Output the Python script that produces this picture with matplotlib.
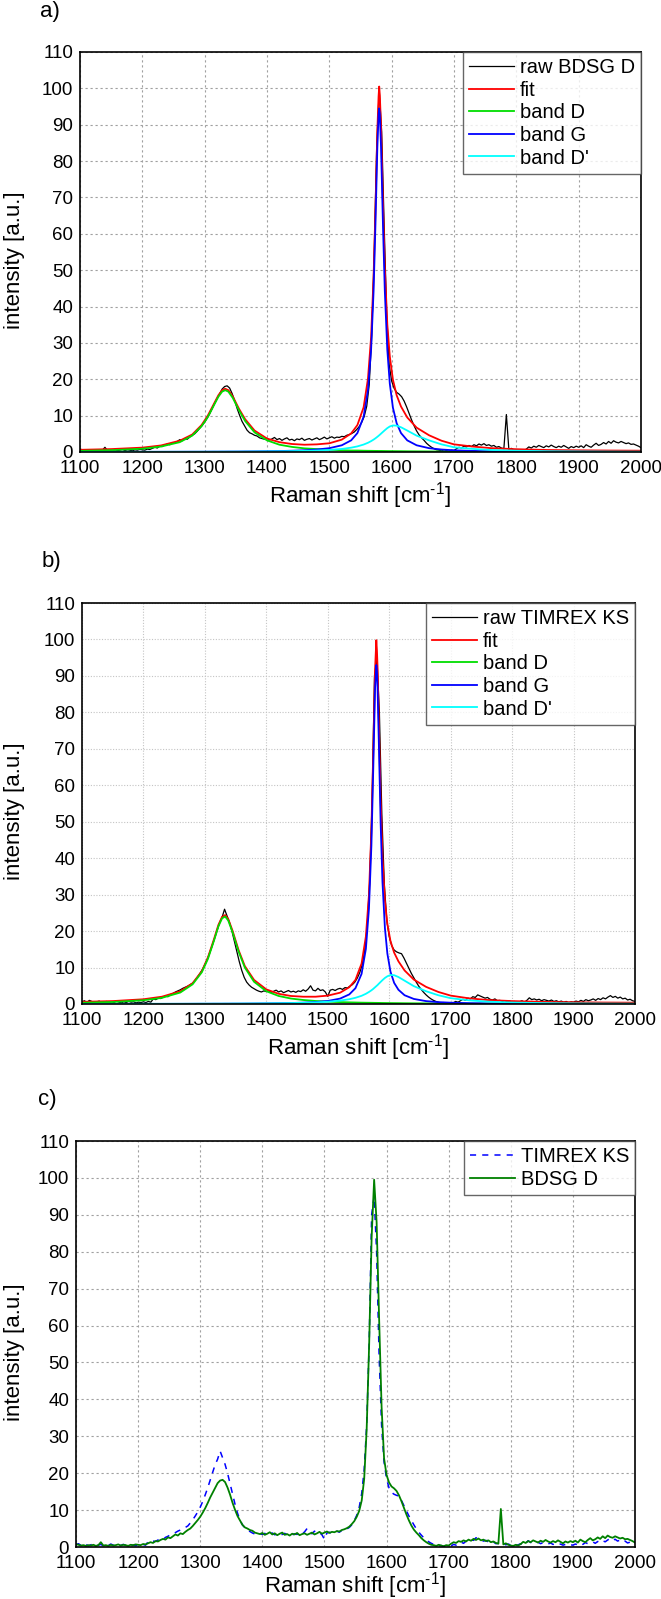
import numpy as np
import matplotlib
matplotlib.use("Agg")
import matplotlib.pyplot as plt

plt.rcParams['font.family'] = ['Liberation Sans', 'DejaVu Sans']
plt.rcParams['mathtext.fontset'] = 'custom'
plt.rcParams['mathtext.rm'] = 'Liberation Sans'
plt.rcParams['mathtext.default'] = 'regular'

# --- raw spectra, sampled every 4 cm-1 from 1100 to 2000 ---
raw_x = np.arange(1100, 2001, 4)

bdsg_raw = [
    0.8, 0.6, 0.4, 0.5, 0.3, 0.5, 0.4, 0.6, 0.3, 0.5, 1.3, 0.4, 0.5, 0.3, 0.6, 0.4, 0.5, 0.7, 0.4, 0.6, 0.5, 0.3, 0.6, 0.5, 0.7,
    0.6, 0.5, 0.8, 0.7, 1.0, 1.3, 1.1, 1.6, 1.5, 1.9, 2.2, 2.0, 2.6, 2.4, 2.9, 3.4, 3.1, 3.7, 3.5, 4.1, 4.6, 5.0, 5.7, 6.5, 7.3,
    8.2, 9.3, 10.5, 11.9, 13.4, 14.7, 16.0, 17.3, 18.0, 18.2, 17.6, 16.1, 14.2, 12.0, 10.1, 8.4, 7.2, 6.0, 5.3, 5.0, 4.6, 4.4, 3.9, 3.7, 3.5,
    3.8, 3.3, 3.6, 4.0, 3.4, 3.7, 3.2, 3.6, 3.9, 3.3, 3.5, 3.1, 3.6, 3.4, 3.8, 3.2, 3.5, 3.7, 3.3, 3.6, 3.9, 3.4, 3.7, 4.1, 3.6,
    3.9, 4.2, 3.8, 4.1, 4.0, 4.3, 4.2, 4.6, 4.8, 5.1, 5.5, 6.2, 7.0, 8.2, 9.8, 12.6, 18.5, 32.0, 55.0, 84.0, 99.5, 88.0, 62.0, 38.0, 24.0,
    19.5, 17.5, 16.4, 15.9, 15.2, 14.0, 12.4, 10.6, 8.8, 7.2, 5.8, 4.7, 3.9, 3.2, 2.4, 1.8, 1.3, 0.9, 0.6, 0.5, 0.3, 0.6, 0.4, 0.2, 0.5,
    0.4, 0.9, 1.3, 1.1, 1.6, 1.4, 1.8, 1.5, 2.0, 1.7, 2.2, 1.9, 2.3, 1.8, 2.0, 1.6, 1.8, 1.3, 1.5, 1.1, 0.9, 10.3, 0.7, 1.0, 0.6,
    0.4, 0.3, 0.6, 0.4, 0.8, 1.4, 1.1, 1.6, 1.3, 1.8, 1.5, 1.2, 1.7, 1.4, 1.9, 1.5, 1.2, 1.6, 1.3, 1.8, 1.4, 1.0, 1.5, 1.2, 1.6,
    1.3, 1.7, 1.2, 2.0, 1.6, 1.3, 1.9, 2.4, 1.8, 2.1, 2.6, 2.2, 2.9, 2.4, 3.1, 2.7, 2.5, 2.9, 2.6, 2.3, 2.5, 2.1, 2.2, 1.9, 1.6,
    1.2]

timrex_raw = [
    0.6, 0.9, 0.4, 1.0, 0.7, 0.3, 0.6, 0.8, 0.4, 0.5, 0.7, 0.3, 0.6, 0.4, 0.8, 0.5, 0.3, 0.6, 0.4, 0.7, 0.5, 0.6, 0.3, 0.5, 0.4,
    0.6, 0.4, 0.7, 0.5, 1.4, 1.2, 1.6, 1.5, 1.9, 2.2, 2.0, 2.6, 2.9, 3.3, 3.6, 3.9, 4.3, 4.6, 4.9, 5.3, 5.7, 6.5, 7.4, 8.4, 9.5,
    10.8, 12.3, 14.1, 16.0, 18.1, 20.2, 22.3, 23.8, 26.0, 24.2, 22.4, 20.0, 17.2, 14.3, 11.6, 9.2, 7.3, 6.0, 5.2, 4.6, 4.2, 3.8, 3.5, 3.3, 3.6,
    3.4, 3.7, 3.2, 3.5, 3.8, 3.3, 3.6, 3.1, 3.4, 3.7, 3.3, 3.5, 3.2, 3.6, 3.4, 3.9, 3.5, 4.1, 5.0, 3.8, 3.6, 4.3, 3.7, 3.9, 3.3,
    2.1, 3.8, 4.0, 3.7, 4.1, 4.3, 4.0, 4.5, 4.4, 4.9, 5.3, 6.0, 7.1, 8.6, 10.8, 14.5, 21.0, 33.0, 55.0, 90.0, 95.0, 80.0, 52.0, 33.0, 23.0,
    18.5, 16.0, 14.8, 14.3, 14.0, 13.8, 12.6, 11.2, 9.8, 8.4, 7.2, 6.0, 4.9, 4.0, 3.2, 2.5, 1.9, 1.4, 1.0, 0.7, 0.5, 0.3, 0.4, 0.2, 0.3,
    0.4, 0.3, 0.7, 0.5, 0.9, 1.3, 1.0, 1.6, 1.4, 2.0, 1.8, 2.5, 2.2, 1.9, 1.6, 1.8, 1.3, 1.1, 1.4, 0.9, 1.0, 0.7, 0.9, 0.6, 0.8,
    0.5, 0.7, 0.4, 0.6, 0.9, 0.5, 1.0, 1.7, 1.2, 1.4, 1.1, 1.3, 0.9, 1.2, 1.0, 0.8, 1.1, 0.7, 0.9, 0.6, 0.8, 0.5, 0.7, 0.4, 0.6,
    0.5, 0.8, 0.6, 1.0, 0.7, 1.2, 0.9, 1.1, 1.4, 1.0, 1.5, 1.2, 1.7, 1.4, 1.9, 2.3, 1.8, 2.1, 1.6, 1.9, 1.4, 1.6, 1.1, 1.3, 0.9,
    0.7]

# --- fitted curves ---
fit_x = [1100, 1150, 1200, 1230, 1260, 1280, 1295, 1305, 1315, 1322,
         1328, 1333, 1338, 1345, 1355, 1365, 1380, 1400, 1420, 1440,
         1460, 1480, 1500, 1520, 1535, 1545, 1555, 1562, 1567, 1571,
         1574, 1577, 1579, 1580, 1581, 1583, 1586, 1589, 1593, 1597,
         1602, 1608, 1615, 1625, 1640, 1660, 1680, 1700, 1730, 1760,
         1800, 1850, 1900, 1950, 2000]

# panel a: BDSG D
fit_a = [0.6, 0.8, 1.2, 1.8, 3.1, 4.8, 7.4, 10.0, 13.3, 15.6,
         17.0, 17.4, 17.0, 15.3, 11.9, 9.0, 5.9, 3.7, 2.7, 2.2,
         2.0, 2.1, 2.4, 3.4, 5.1, 7.4, 12.3, 20.2, 31.6, 48.2,
         67.0, 88.3, 97.8, 100.5, 98.1, 89.2, 68.7, 50.8, 35.1, 26.3,
         19.9, 15.6, 12.5, 9.5, 6.7, 4.6, 3.1, 2.1, 1.5, 1.05,
         0.77, 0.55, 0.46, 0.4, 0.36]
band_d_a = [0.3, 0.5, 0.9, 1.5, 2.7, 4.5, 7.1, 9.6, 12.9, 15.2,
            16.6, 17.0, 16.6, 14.9, 11.5, 8.5, 5.4, 3.2, 2.0, 1.4,
            1.0, 0.8, 0.6, 0.5, 0.4, 0.4, 0.35, 0.33, 0.32, 0.31,
            0.3, 0.3, 0.29, 0.29, 0.29, 0.29, 0.28, 0.27, 0.26, 0.25,
            0.24, 0.23, 0.22, 0.2, 0.18, 0.16, 0.14, 0.13, 0.11, 0.09,
            0.08, 0.07, 0.05, 0.05, 0.04]
band_g_a = [0.03, 0.04, 0.05, 0.06, 0.07, 0.08, 0.08, 0.09, 0.1, 0.1,
            0.11, 0.11, 0.12, 0.12, 0.13, 0.15, 0.17, 0.21, 0.26, 0.35,
            0.47, 0.68, 1.05, 1.85, 3.2, 5.2, 9.7, 17.1, 28.1, 44.3,
            62.7, 83.6, 92.9, 94.5, 92.9, 83.6, 62.7, 44.3, 28.1, 18.8,
            12.2, 7.9, 5.2, 3.2, 1.85, 1.05, 0.68, 0.47, 0.3, 0.21,
            0.14, 0.09, 0.07, 0.05, 0.04]
band_dp_a = [0.03, 0.03, 0.04, 0.05, 0.06, 0.06, 0.07, 0.07, 0.08, 0.08,
             0.09, 0.09, 0.09, 0.1, 0.1, 0.11, 0.13, 0.16, 0.19, 0.24,
             0.31, 0.41, 0.57, 0.84, 1.19, 1.54, 2.05, 2.54, 2.99, 3.41,
             3.77, 4.17, 4.45, 4.6, 4.75, 5.06, 5.53, 5.99, 6.57, 7.02,
             7.3, 7.25, 6.8, 5.9, 4.5, 3.2, 2.1, 1.3, 0.85, 0.55,
             0.35, 0.2, 0.14, 0.1, 0.08]

# panel b: TIMREX KS
fit_b = [0.6, 0.8, 1.3, 2.0, 3.5, 5.7, 9.0, 12.8, 17.9, 21.7,
         23.9, 24.4, 23.3, 20.1, 14.7, 10.4, 6.6, 4.0, 2.8, 2.2,
         2.0, 2.0, 2.3, 3.1, 4.6, 6.6, 11.1, 18.5, 29.9, 47.8,
         69.1, 91.9, 99.8, 97.0, 92.5, 78.5, 56.2, 40.5, 28.4, 21.9,
         17.3, 14.1, 11.7, 9.2, 6.7, 4.7, 3.3, 2.3, 1.55, 1.1,
         0.8, 0.58, 0.47, 0.4, 0.36]
band_d_b = [0.34, 0.55, 1.03, 1.68, 3.15, 5.4, 8.7, 12.4, 17.5, 21.3,
            23.5, 24.0, 22.9, 19.7, 14.3, 10.0, 6.1, 3.5, 2.2, 1.5,
            1.1, 0.83, 0.65, 0.52, 0.45, 0.41, 0.37, 0.35, 0.34, 0.33,
            0.32, 0.31, 0.31, 0.31, 0.3, 0.3, 0.29, 0.28, 0.27, 0.26,
            0.25, 0.24, 0.23, 0.21, 0.19, 0.17, 0.15, 0.14, 0.12, 0.1,
            0.09, 0.07, 0.06, 0.05, 0.04]
band_g_b = [0.02, 0.03, 0.04, 0.04, 0.05, 0.06, 0.07, 0.07, 0.08, 0.08,
            0.08, 0.09, 0.09, 0.1, 0.1, 0.11, 0.13, 0.16, 0.21, 0.27,
            0.37, 0.53, 0.83, 1.48, 2.63, 4.33, 8.27, 15.1, 26.1, 43.5,
            64.4, 86.8, 93.0, 91.4, 86.8, 72.4, 49.7, 33.5, 20.8, 13.8,
            8.9, 5.8, 3.9, 2.4, 1.39, 0.79, 0.51, 0.36, 0.23, 0.16,
            0.11, 0.07, 0.05, 0.04, 0.03]
band_dp_b = [0.03, 0.04, 0.05, 0.05, 0.06, 0.07, 0.08, 0.08, 0.09, 0.09,
             0.1, 0.1, 0.1, 0.11, 0.12, 0.13, 0.14, 0.17, 0.21, 0.26,
             0.34, 0.45, 0.63, 0.92, 1.31, 1.7, 2.25, 2.8, 3.3, 3.75,
             4.15, 4.6, 4.9, 5.05, 5.2, 5.55, 6.05, 6.55, 7.15, 7.6,
             7.95, 7.9, 7.4, 6.4, 4.9, 3.5, 2.4, 1.6, 1.0, 0.65,
             0.4, 0.24, 0.16, 0.11, 0.09]

xticks = [1100, 1200, 1300, 1400, 1500, 1600, 1700, 1800, 1900, 2000]
yticks = [0, 10, 20, 30, 40, 50, 60, 70, 80, 90, 100, 110]
xlab = r'Raman shift [cm$^{\text{-}1}$]'
ylab = 'intensity [a.u.]'

W, H = 661, 1599
fig = plt.figure(figsize=(W / 100, H / 100), dpi=100)


def make_axes(left, right, top, bottom, grid_style):
    ax = fig.add_axes([left / W, 1 - bottom / H, (right - left) / W, (bottom - top) / H])
    ax.set_xlim(1100, 2000)
    ax.set_ylim(0, 110)
    ax.set_xticks(xticks)
    ax.set_yticks(yticks)
    ax.tick_params(length=0, labelsize=13.5)
    ax.tick_params(axis='x', pad=6)
    ax.tick_params(axis='y', pad=5)
    ax.grid(True, **grid_style)
    ax.set_axisbelow(True)
    for s in ax.spines.values():
        s.set_color('black')
        s.set_linewidth(1.2)
    ax.set_xlabel(xlab, fontsize=16)
    ax.set_ylabel(ylab, fontsize=16)
    ax.xaxis.set_label_coords(0.5, -0.07)
    ax.yaxis.set_label_coords((25 - left) / (right - left), 0.48)
    return ax


def add_legend(ax):
    leg = ax.legend(loc='upper right', borderaxespad=0, fontsize=14.5, frameon=True,
                    fancybox=False, handlelength=2.2, handletextpad=0.3,
                    labelspacing=0.18, borderpad=0.3)
    leg.get_frame().set_edgecolor('#404040')
    leg.get_frame().set_linewidth(1.0)
    return leg


dashed_grid = dict(color='#a0a0a0', linestyle=(0, (2, 2.5)), linewidth=0.8)
dotted_grid = dict(color='#c4c4c4', linestyle=(0, (1, 1.5)), linewidth=0.8)

# a)
ax = make_axes(80, 641, 52, 452, dashed_grid)
ax.plot(raw_x, bdsg_raw, color='black', lw=0.9, label='raw BDSG D')
ax.plot(fit_x, fit_a, color='#ff0000', lw=1.3, label='fit')
ax.plot(fit_x, band_d_a, color='#00dd00', lw=1.3, label='band D')
ax.plot(fit_x, band_g_a, color='#0000ff', lw=1.3, label='band G')
ax.plot(fit_x, band_dp_a, color='#00ffff', lw=1.3, label="band D'")
add_legend(ax)
fig.text(40 / W, 1 - 11 / H, 'a)', fontsize=16, va='center', ha='left')

# b)
ax = make_axes(82, 635, 603, 1004, dotted_grid)
ax.plot(raw_x, timrex_raw, color='black', lw=0.9, label='raw TIMREX KS')
ax.plot(fit_x, fit_b, color='#ff0000', lw=1.3, label='fit')
ax.plot(fit_x, band_d_b, color='#00dd00', lw=1.3, label='band D')
ax.plot(fit_x, band_g_b, color='#0000ff', lw=1.3, label='band G')
ax.plot(fit_x, band_dp_b, color='#00ffff', lw=1.3, label="band D'")
add_legend(ax)
fig.text(42 / W, 1 - 561 / H, 'b)', fontsize=16, va='center', ha='left')

# c)
ax = make_axes(76, 635, 1141, 1547, dashed_grid)
ax.plot(raw_x, timrex_raw, color='#0000ff', lw=1.1, linestyle=(0, (4, 4)), label='TIMREX KS')
ax.plot(raw_x, bdsg_raw, color='#008000', lw=1.3, label='BDSG D')
add_legend(ax)
ax.xaxis.set_label_coords(0.5, -0.056)
fig.text(38 / W, 1 - 1099 / H, 'c)', fontsize=16, va='center', ha='left')

fig.savefig('out.png', dpi=100)
